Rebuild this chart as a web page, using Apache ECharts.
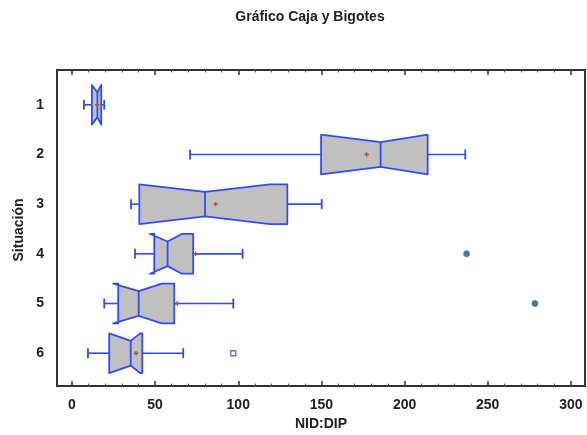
<!DOCTYPE html>
<html>
<head>
<meta charset="utf-8">
<script src="https://cdn.jsdelivr.net/npm/echarts@6/dist/echarts.min.js"></script>
<style>
  html, body { margin: 0; padding: 0; background: #fff; }
  #chart { width: 587px; height: 435px; }
</style>
</head>
<body>
<div id="chart"></div>
<script>
// Situaciones (filas del gráfico, de arriba abajo)
const situaciones = [1, 2, 3, 4, 5, 6];

// Resumen de cinco números por situación (NID:DIP)
const bigoteInf = [7.2, 71.0, 35.5, 37.9, 19.4, 9.6];
const cuartil1  = [12.0, 149.8, 40.5, 49.5, 27.8, 22.4];
const mediana   = [15.3, 185.6, 80.0, 57.5, 40.1, 35.3];
const cuartil3  = [17.6, 213.9, 129.5, 72.9, 61.5, 42.3];
const bigoteSup = [19.4, 236.5, 150.2, 102.6, 97.0, 66.9];

// Límites de la muesca alrededor de la mediana
const muescaInf = [12.0, 149.8, 40.5, 46.9, 24.8, 22.4];
const muescaSup = [17.6, 213.9, 119.0, 66.0, 54.0, 41.0];

// Medias
const medias = [15.2, 177.2, 86.4, 74.4, 63.3, 38.5];

// Valores atípicos: [situación, valor]
const atipicosLejanos = [[4, 237.3], [5, 278.4]];
const atipicosCercanos = [[6, 97.0]];

// Marcas de los ejes
const xEtiquetas = [0, 50, 100, 150, 200, 250, 300];
const xMenores = [];
for (let v = 0; v <= 300; v += 10) if (v % 50 !== 0) xMenores.push(v);

const AZUL = '#2f4cff';
const TEXTO = '#222';
const FUENTE = 'Liberation Sans, Arial, sans-serif';

const cajas = situaciones.map((s, i) => [
  s, bigoteInf[i], cuartil1[i], mediana[i], cuartil3[i], bigoteSup[i], muescaInf[i], muescaSup[i]
]);
const puntosMedia = situaciones.map((s, i) => [medias[i], s]);

function dibujarCaja(params, api) {
  const y = api.value(0);
  const wl = api.value(1), q1 = api.value(2), md = api.value(3),
        q3 = api.value(4), wh = api.value(5), nl = api.value(6), nh = api.value(7);
  const cy = api.coord([md, y])[1];
  const hh = api.size([0, 0.4])[1];
  const ind = hh * 0.38;
  const px = v => api.coord([v, y])[0];
  const top = cy - hh, bot = cy + hh;
  const cap = 5;
  const linea = (x1, y1, x2, y2, w) => ({
    type: 'line',
    shape: { x1, y1, x2, y2 },
    style: { stroke: AZUL, lineWidth: w }
  });
  return {
    type: 'group',
    children: [
      linea(px(wl), cy, px(q1), cy, 1.6),
      linea(px(q3), cy, px(wh), cy, 1.6),
      linea(px(wl), cy - cap, px(wl), cy + cap, 1.8),
      linea(px(wh), cy - cap, px(wh), cy + cap, 1.8),
      {
        type: 'polygon',
        shape: {
          points: [
            [px(q1), top], [px(nl), top], [px(md), top + ind], [px(nh), top], [px(q3), top],
            [px(q3), bot], [px(nh), bot], [px(md), bot - ind], [px(nl), bot], [px(q1), bot]
          ]
        },
        style: { fill: '#c0c0c0', stroke: AZUL, lineWidth: 1.8, lineJoin: 'round' }
      },
      linea(px(md), top + ind, px(md), bot - ind, 1.8)
    ]
  };
}

function dibujarMedia(params, api) {
  const p = api.coord([api.value(0), api.value(1)]);
  const r = 2.2;
  const st = { stroke: '#a8582a', lineWidth: 1.5 };
  return {
    type: 'group',
    children: [
      { type: 'line', shape: { x1: p[0] - r, y1: p[1], x2: p[0] + r, y2: p[1] }, style: st },
      { type: 'line', shape: { x1: p[0], y1: p[1] - r, x2: p[0], y2: p[1] + r }, style: st }
    ]
  };
}

const X_MIN = -9, X_MAX = 308.5;
const Y_MIN = 0.3, Y_MAX = 6.66;

const ejeX = (pos, extra) => Object.assign({
  type: 'value', position: pos, min: X_MIN, max: X_MAX,
  splitLine: { show: false },
  axisLine: { show: false, onZero: false },
  axisLabel: { show: false },
  axisTick: { show: false }
}, extra);

const marco = { show: true, onZero: false, lineStyle: { color: '#333', width: 2 } };

const option = {
  animation: false,
  backgroundColor: '#fff',
  grid: { left: 57, right: 2, top: 70, bottom: 49, containLabel: false },
  xAxis: [
    ejeX('bottom', {
      axisLine: marco,
      axisTick: { show: true, inside: true, length: 5, customValues: xEtiquetas,
                  lineStyle: { color: '#333', width: 1.5 } },
      axisLabel: { show: true, customValues: xEtiquetas, margin: 12,
                   color: TEXTO, fontFamily: FUENTE, fontWeight: 'bold', fontSize: 14 }
    }),
    ejeX('bottom', {
      axisTick: { show: true, inside: true, length: 2.5, customValues: xMenores,
                  lineStyle: { color: '#555', width: 1 } }
    }),
    ejeX('top', {
      axisLine: marco,
      axisTick: { show: true, inside: true, length: 5, customValues: xEtiquetas,
                  lineStyle: { color: '#333', width: 1.5 } }
    }),
    ejeX('top', {
      axisTick: { show: true, inside: true, length: 2.5, customValues: xMenores,
                  lineStyle: { color: '#555', width: 1 } }
    })
  ],
  yAxis: [
    {
      type: 'value', position: 'left', inverse: true, min: Y_MIN, max: Y_MAX,
      splitLine: { show: false },
      axisLine: marco,
      axisTick: { show: false },
      axisLabel: { show: true, customValues: situaciones, margin: 13,
                   padding: [3, 0, 0, 0],
                   color: TEXTO, fontFamily: FUENTE, fontWeight: 'bold', fontSize: 14 }
    },
    {
      type: 'value', position: 'right', inverse: true, min: Y_MIN, max: Y_MAX,
      splitLine: { show: false },
      axisLine: marco,
      axisTick: { show: false },
      axisLabel: { show: false }
    }
  ],
  graphic: [
    {
      type: 'text', x: 310, y: 17,
      style: { text: 'Gráfico Caja y Bigotes', fill: TEXTO, font: 'bold 14px ' + FUENTE,
               textAlign: 'center', textVerticalAlign: 'middle' }
    },
    {
      type: 'text', x: 321, y: 424,
      style: { text: 'NID:DIP', fill: TEXTO, font: 'bold 14px ' + FUENTE,
               textAlign: 'center', textVerticalAlign: 'middle' }
    },
    {
      type: 'text', x: 19, y: 230, rotation: Math.PI / 2,
      style: { text: 'Situación', fill: TEXTO, font: 'bold 14px ' + FUENTE,
               textAlign: 'center', textVerticalAlign: 'middle' }
    }
  ],
  series: [
    {
      type: 'custom', name: 'Cajas', renderItem: dibujarCaja,
      encode: { x: [1, 2, 3, 4, 5], y: 0 },
      data: cajas, z: 2
    },
    {
      type: 'custom', name: 'Media', renderItem: dibujarMedia,
      encode: { x: 0, y: 1 },
      data: puntosMedia, z: 3
    },
    {
      type: 'scatter', name: 'Atípicos lejanos', symbol: 'circle', symbolSize: 6,
      itemStyle: { color: '#1b5e58', borderColor: '#4a66ff', borderWidth: 1 },
      data: atipicosLejanos.map(d => [d[1], d[0]]), z: 4
    },
    {
      type: 'scatter', name: 'Atípicos cercanos', symbol: 'rect', symbolSize: 5,
      itemStyle: { color: '#fff', borderColor: AZUL, borderWidth: 1.4 },
      data: atipicosCercanos.map(d => [d[1], d[0]]), z: 4
    }
  ]
};

const chart = echarts.init(document.getElementById('chart'), null, { renderer: 'canvas' });
chart.setOption(option);
</script>
</body>
</html>
